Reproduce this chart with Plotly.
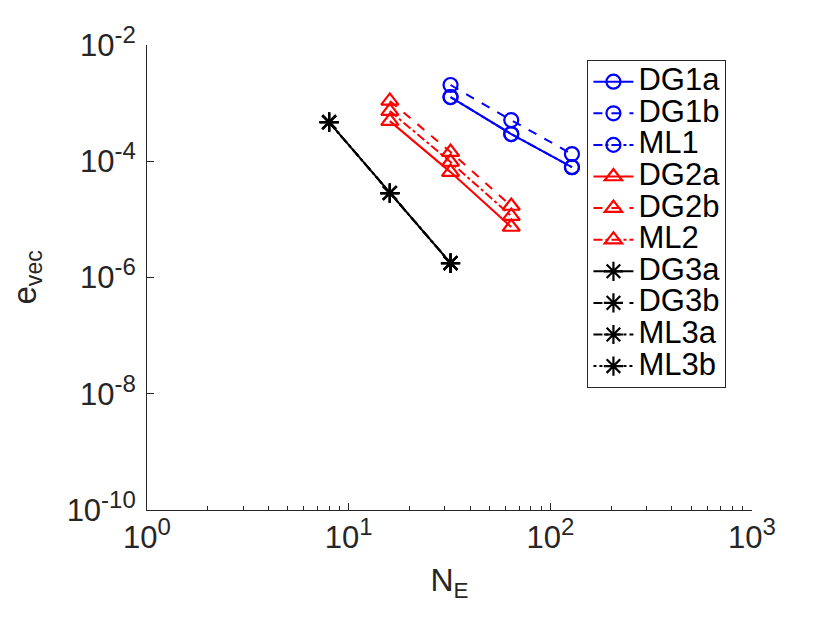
import plotly.graph_objects as go

# number of elements
ne_1 = [32, 64, 128]
ne_2 = [16, 32, 64]
ne_3 = [8, 16, 32]

# errors
dg1a = [1.27e-3, 2.94e-4, 7.9e-5]
dg1b = [2.05e-3, 5.1e-4, 1.33e-4]
ml1 = [1.27e-3, 2.94e-4, 7.9e-5]
dg2a = [4.9e-4, 6.5e-5, 7.4e-6]
dg2b = [1.09e-3, 1.44e-4, 1.7e-5]
ml2 = [7.3e-4, 9.7e-5, 1.14e-5]
dg3a = [4.7e-4, 2.84e-5, 1.77e-6]
dg3b = [4.7e-4, 2.84e-5, 1.77e-6]
ml3a = [4.7e-4, 2.84e-5, 1.77e-6]
ml3b = [4.7e-4, 2.84e-5, 1.77e-6]

x_ticks = [1, 10, 100, 1000]
x_exps = ["0", "1", "2", "3"]
x_minor = [2, 3, 4, 5, 6, 7, 8, 9, 20, 30, 40, 50, 60, 70, 80, 90,
           200, 300, 400, 500, 600, 700, 800, 900]
y_ticks = [1e-10, 1e-8, 1e-6, 1e-4, 1e-2]
y_exps = ["-10", "-8", "-6", "-4", "-2"]


def pow_label(e):
    # matlab draws the exponent bigger than plotly's default <sup>
    return "10<sup><span style='font-size:24px'>%s</span></sup>" % e


def big(name):
    # big legend text while the row height follows the smaller legend font
    return "<span style='font-size:31px'>%s</span>" % name


series = [
    ("DG1a", ne_1, dg1a, "blue", "solid", "circle-open", 14),
    ("DG1b", ne_1, dg1b, "blue", "dash", "circle-open", 14),
    ("ML1", ne_1, ml1, "blue", "dashdot", "circle-open", 14),
    ("DG2a", ne_2, dg2a, "red", "solid", "triangle-up-open", 15),
    ("DG2b", ne_2, dg2b, "red", "dash", "triangle-up-open", 15),
    ("ML2", ne_2, ml2, "red", "dashdot", "triangle-up-open", 15),
    ("DG3a", ne_3, dg3a, "black", "solid", "asterisk-open", 16),
    ("DG3b", ne_3, dg3b, "black", "dash", "asterisk-open", 16),
    ("ML3a", ne_3, ml3a, "black", "dashdot", "asterisk-open", 16),
    ("ML3b", ne_3, ml3b, "black", "dot", "asterisk-open", 16),
]

fig = go.Figure()
for name, x, y, color, dash, symbol, msize in series:
    fig.add_trace(go.Scatter(
        x=x, y=y, name=big(name), mode="lines+markers",
        line=dict(color=color, width=2, dash=dash),
        marker=dict(symbol=symbol, size=msize, color=color, line=dict(color=color, width=2.2)),
    ))

FONT = "Liberation Sans, Arial, sans-serif"

# y label as an annotation so it can sit further left without moving the axes
fig.add_annotation(
    text="e<sub>vec</sub>", textangle=-90,
    xref="paper", yref="paper", x=-0.2, y=0.5,
    xanchor="center", yanchor="middle", showarrow=False,
    font=dict(family=FONT, size=33, color="#262626"),
)

# page body has an 8px margin, so shift everything by 8
fig.update_layout(
    width=830, height=623,
    margin=dict(l=139, r=86, t=37, b=121),
    plot_bgcolor="white", paper_bgcolor="white",
    font=dict(family=FONT, size=31, color="#262626"),
    showlegend=True,
    legend=dict(
        x=0.728, y=0.968, xanchor="left", yanchor="top",
        bgcolor="white", bordercolor="#262626", borderwidth=1,
        font=dict(family=FONT, size=22, color="black"),
        tracegroupgap=0, itemwidth=40,
    ),
    xaxis=dict(
        type="log", range=[0, 3], automargin=False,
        tickvals=x_ticks, ticktext=[pow_label(e) for e in x_exps],
        ticks="inside", ticklen=7, tickcolor="#262626",
        minor=dict(tickvals=x_minor, ticks="inside", ticklen=4,
                   tickcolor="#262626", showgrid=False),
        showline=True, linecolor="#262626", linewidth=1,
        showgrid=False, zeroline=False,
        tickfont=dict(size=31),
        title=dict(text="N<sub>E</sub>", font=dict(size=32), standoff=14),
    ),
    yaxis=dict(
        type="log", range=[-10, -2], automargin=False,
        tickvals=y_ticks, ticktext=[pow_label(e) for e in y_exps],
        ticks="inside", ticklen=7, tickcolor="#262626",
        showline=True, linecolor="#262626", linewidth=1,
        showgrid=False, zeroline=False,
        tickfont=dict(size=31), ticklabelstandoff=4,
    ),
)

fig.write_html("out.html")
